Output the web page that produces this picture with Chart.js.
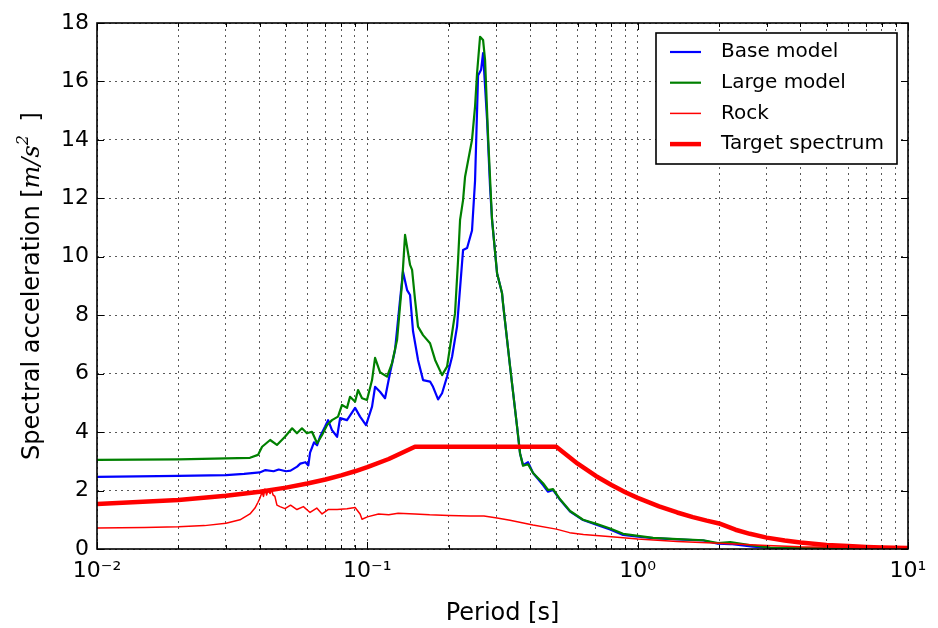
<!DOCTYPE html>
<html>
<head>
<meta charset="utf-8">
<script src="https://cdn.jsdelivr.net/npm/chart.js@4"></script>
<style>
  html, body { margin: 0; padding: 0; background: #fff; }
  #wrap { width: 938px; height: 628px; }
</style>
</head>
<body>
<div id="wrap"><canvas id="chart" width="938" height="628"></canvas></div>
<script>
// Period [s] / spectral acceleration [m/s^2]
const basePeriod = [0.01, 0.02, 0.03, 0.035, 0.04, 0.042, 0.045, 0.047, 0.05, 0.052, 0.055, 0.0565, 0.059, 0.0605, 0.0614, 0.0635, 0.0652, 0.0668, 0.0698, 0.0716, 0.074, 0.0773, 0.0793, 0.0841, 0.0901, 0.094, 0.0989, 0.1041, 0.1068, 0.1114, 0.1163, 0.1213, 0.1266, 0.1321, 0.1355, 0.1403, 0.1439, 0.1476, 0.154, 0.1607, 0.1706, 0.175, 0.1827, 0.189, 0.1972, 0.2058, 0.2147, 0.226, 0.2339, 0.2439, 0.2503, 0.2568, 0.2635, 0.268, 0.2773, 0.2844, 0.2893, 0.3019, 0.315, 0.3177, 0.3373, 0.358, 0.3672, 0.3767, 0.3931, 0.4102, 0.4467, 0.4661, 0.4864, 0.5164, 0.5623, 0.6281, 0.7077, 0.7907, 0.8831, 1.0035, 1.14, 1.4, 1.75, 1.98, 2.2, 2.67, 3.09, 4, 6, 10];
const baseAccel  = [2.47, 2.50, 2.53, 2.57, 2.62, 2.70, 2.66, 2.72, 2.66, 2.68, 2.82, 2.92, 2.97, 2.86, 3.30, 3.65, 3.55, 3.84, 4.19, 4.41, 4.07, 3.84, 4.48, 4.41, 4.83, 4.53, 4.24, 4.87, 5.55, 5.38, 5.16, 6.02, 6.81, 8.52, 9.49, 8.86, 8.69, 7.45, 6.47, 5.78, 5.73, 5.55, 5.12, 5.33, 5.90, 6.58, 7.61, 10.23, 10.30, 10.90, 12.60, 16.20, 16.40, 16.97, 14.68, 12.40, 11.26, 9.44, 8.75, 8.40, 6.24, 4.19, 3.27, 2.87, 2.97, 2.60, 2.19, 1.96, 2.02, 1.68, 1.28, 0.99, 0.82, 0.67, 0.48, 0.42, 0.37, 0.33, 0.29, 0.18, 0.17, 0.08, 0.04, 0.03, 0.02, 0.02];

const largePeriod = [0.01, 0.02, 0.03, 0.0368, 0.0394, 0.0408, 0.0437, 0.0463, 0.0496, 0.0527, 0.0549, 0.0573, 0.0598, 0.0624, 0.0652, 0.068, 0.071, 0.074, 0.0779, 0.0806, 0.0841, 0.0863, 0.0901, 0.0924, 0.0956, 0.0997, 0.1041, 0.1068, 0.1114, 0.1183, 0.1234, 0.1288, 0.1344, 0.1379, 0.1439, 0.1464, 0.1502, 0.154, 0.1607, 0.1706, 0.1781, 0.189, 0.1972, 0.2023, 0.2111, 0.2166, 0.2203, 0.226, 0.2299, 0.2439, 0.2503, 0.2546, 0.2612, 0.268, 0.2726, 0.2797, 0.2893, 0.3019, 0.315, 0.3177, 0.3373, 0.358, 0.3672, 0.3767, 0.3931, 0.4102, 0.4467, 0.4661, 0.4864, 0.5164, 0.5623, 0.6281, 0.7077, 0.7907, 0.8831, 1.0035, 1.14, 1.4, 1.75, 1.98, 2.2, 2.67, 3.09, 4, 6, 10];
const largeAccel  = [3.05, 3.07, 3.10, 3.12, 3.22, 3.50, 3.73, 3.56, 3.84, 4.13, 3.96, 4.13, 3.96, 4.01, 3.62, 3.90, 4.24, 4.41, 4.53, 4.93, 4.83, 5.21, 5.04, 5.44, 5.16, 5.10, 5.78, 6.54, 6.05, 5.90, 6.36, 7.15, 9.10, 10.75, 9.72, 9.55, 8.52, 7.61, 7.32, 7.04, 6.47, 5.95, 6.24, 6.92, 8.07, 9.89, 11.26, 11.94, 12.74, 14.00, 15.14, 16.28, 17.53, 17.42, 16.73, 14.11, 11.26, 9.44, 8.75, 8.40, 6.24, 4.19, 3.27, 2.85, 2.90, 2.60, 2.25, 2.02, 2.05, 1.70, 1.30, 1.00, 0.85, 0.70, 0.52, 0.45, 0.38, 0.34, 0.30, 0.20, 0.24, 0.12, 0.05, 0.03, 0.02, 0.02];

const rockPeriod = [0.01, 0.015, 0.02, 0.025, 0.03, 0.0338, 0.0368, 0.0384, 0.0394, 0.0401, 0.0408, 0.0413, 0.0418, 0.0424, 0.0429, 0.0437, 0.0442, 0.0448, 0.0455, 0.0463, 0.0475, 0.0496, 0.052, 0.0549, 0.058, 0.0614, 0.065, 0.068, 0.0716, 0.0773, 0.0841, 0.0901, 0.094, 0.0956, 0.1, 0.11, 0.12, 0.13, 0.15, 0.17, 0.2, 0.24, 0.27, 0.302, 0.337, 0.41, 0.5, 0.56, 0.63, 0.8, 1.0, 1.4, 2.0, 3.0, 4.0, 6.0, 10];
const rockAccel  = [0.72, 0.74, 0.76, 0.80, 0.88, 1.00, 1.20, 1.40, 1.60, 1.75, 1.95, 1.80, 2.05, 1.85, 2.00, 1.90, 2.05, 1.85, 1.80, 1.50, 1.45, 1.38, 1.50, 1.35, 1.45, 1.25, 1.40, 1.20, 1.35, 1.35, 1.38, 1.42, 1.20, 1.02, 1.10, 1.20, 1.17, 1.22, 1.20, 1.17, 1.15, 1.13, 1.13, 1.06, 0.98, 0.82, 0.68, 0.56, 0.50, 0.42, 0.34, 0.26, 0.20, 0.12, 0.08, 0.06, 0.05];

const targetPeriod = [0.01, 0.02, 0.03, 0.04, 0.05, 0.06, 0.07, 0.08, 0.09, 0.1, 0.12, 0.15, 0.5, 0.6, 0.7, 0.8, 0.9, 1.0, 1.2, 1.4, 1.6, 1.8, 2.0, 2.3, 2.6, 3.0, 3.5, 4, 5, 6, 7, 8, 10];
const targetAccel  = [1.54, 1.68, 1.82, 1.96, 2.10, 2.24, 2.38, 2.52, 2.66, 2.80, 3.08, 3.50, 3.50, 2.92, 2.50, 2.19, 1.94, 1.75, 1.46, 1.25, 1.09, 0.97, 0.875, 0.66, 0.52, 0.39, 0.29, 0.22, 0.14, 0.10, 0.07, 0.055, 0.035];

// Axis ticks
const periodTicks = [0.01, 0.02, 0.03, 0.04, 0.05, 0.06, 0.07, 0.08, 0.09,
                     0.1, 0.2, 0.3, 0.4, 0.5, 0.6, 0.7, 0.8, 0.9,
                     1, 2, 3, 4, 5, 6, 7, 8, 9, 10];
const decadeLabels = { 0.01: '10⁻²', 0.1: '10⁻¹', 1: '10⁰', 10: '10¹' };

const FONT = '"DejaVu Sans", "Liberation Sans", sans-serif';
Chart.defaults.font.family = FONT;
Chart.defaults.color = '#000';

function pts(xs, ys) {
  return xs.map((x, i) => ({ x, y: ys[i] }));
}

function isMajor(v) {
  const e = Math.log10(v);
  return Math.abs(e - Math.round(e)) < 1e-6;
}

// frame, inward tick marks, axis titles and the boxed legend
const decorations = {
  id: 'decorations',
  afterDraw(chart) {
    const { ctx, chartArea: a, scales } = chart;
    ctx.save();

    // inward ticks
    ctx.strokeStyle = '#000';
    ctx.lineWidth = 1;
    ctx.beginPath();
    scales.x.ticks.forEach((t) => {
      const px = Math.round(scales.x.getPixelForValue(t.value)) + 0.5;
      const len = isMajor(t.value) ? 7 : 4;
      ctx.moveTo(px, a.bottom); ctx.lineTo(px, a.bottom - len);
      ctx.moveTo(px, a.top);    ctx.lineTo(px, a.top + len);
    });
    scales.y.ticks.forEach((t) => {
      const py = Math.round(scales.y.getPixelForValue(t.value)) + 0.5;
      ctx.moveTo(a.left, py);  ctx.lineTo(a.left + 7, py);
      ctx.moveTo(a.right, py); ctx.lineTo(a.right - 7, py);
    });
    ctx.stroke();

    // frame
    ctx.lineWidth = 1.6;
    ctx.strokeRect(a.left, a.top, a.right - a.left, a.bottom - a.top);

    // x title
    ctx.fillStyle = '#000';
    ctx.font = '24px ' + FONT;
    ctx.textAlign = 'center';
    ctx.textBaseline = 'alphabetic';
    ctx.fillText('Period [s]', (a.left + a.right) / 2, 620);

    // y title, with the unit in math italics
    const segs = [
      { t: 'Spectral acceleration [', f: '24px ' + FONT, dy: 0 },
      { t: 'm/s', f: 'italic 24px "DejaVu Serif", serif', dy: 0 },
      { t: '2', f: 'italic 16px "DejaVu Serif", serif', dy: -11 },
      { t: ' ]', f: '24px ' + FONT, dy: 0 },
    ];
    let total = 0;
    segs.forEach((s) => { ctx.font = s.f; s.w = ctx.measureText(s.t).width + (s.t === '2' ? 6 : 0); total += s.w; });
    ctx.translate(39, (a.top + a.bottom) / 2);
    ctx.rotate(-Math.PI / 2);
    ctx.textAlign = 'left';
    let x = -total / 2;
    segs.forEach((s) => { ctx.font = s.f; ctx.fillText(s.t, x, s.dy); x += s.w; });
    ctx.setTransform(1, 0, 0, 1, 0, 0);

    // legend
    const bx = a.right - 252, by = a.top + 10, bw = 241, bh = 131;
    ctx.fillStyle = '#fff';
    ctx.fillRect(bx, by, bw, bh);
    ctx.lineWidth = 1.6;
    ctx.strokeStyle = '#000';
    ctx.strokeRect(bx, by, bw, bh);
    ctx.font = '20px ' + FONT;
    ctx.textBaseline = 'middle';
    ctx.fillStyle = '#000';
    chart.data.datasets.forEach((ds, i) => {
      const ry = by + 19 + i * 30.7;
      ctx.strokeStyle = ds.borderColor;
      ctx.lineWidth = ds.borderWidth;
      ctx.beginPath();
      ctx.moveTo(bx + 14, ry); ctx.lineTo(bx + 45, ry);
      ctx.stroke();
      ctx.fillText(ds.label, bx + 65, ry);
    });

    ctx.restore();
  },
};

function line(label, xs, ys, color, width, order) {
  return {
    label,
    data: pts(xs, ys),
    borderColor: color,
    backgroundColor: color,
    borderWidth: width,
    borderJoinStyle: 'round',
    pointRadius: 0,
    tension: 0,
    fill: false,
    order,
  };
}

new Chart(document.getElementById('chart'), {
  type: 'line',
  data: {
    datasets: [
      line('Base model',      basePeriod,   baseAccel,   '#0000ff', 2.2, 3),
      line('Large model',     largePeriod,  largeAccel,  '#008000', 2.2, 2),
      line('Rock',            rockPeriod,   rockAccel,   '#ff0000', 1.5, 1),
      line('Target spectrum', targetPeriod, targetAccel, '#ff0000', 4.5, 0),
    ],
  },
  options: {
    responsive: false,
    animation: false,
    layout: { padding: { top: 23, right: 30, left: 0, bottom: 0 } },
    plugins: { legend: { display: false }, tooltip: { enabled: false } },
    scales: {
      x: {
        type: 'logarithmic',
        min: 0.01,
        max: 10,
        afterFit: (s) => { s.height = 79; },
        afterBuildTicks: (s) => { s.ticks = periodTicks.map((v) => ({ value: v })); },
        grid: { color: 'rgba(0,0,0,0.65)', lineWidth: 1, drawTicks: false },
        border: { display: false, dash: [2, 4] },
        ticks: {
          autoSkip: false,
          maxRotation: 0,
          padding: 9,
          font: { size: 22 },
          callback: (v) => decadeLabels[v] ?? '',
        },
      },
      y: {
        min: 0,
        max: 18,
        afterFit: (s) => { s.width = 97; },
        grid: { color: 'rgba(0,0,0,0.65)', lineWidth: 1, drawTicks: false },
        border: { display: false, dash: [2, 4] },
        ticks: { stepSize: 2, padding: 8, font: { size: 22 } },
      },
    },
  },
  plugins: [decorations],
});
</script>
</body>
</html>
